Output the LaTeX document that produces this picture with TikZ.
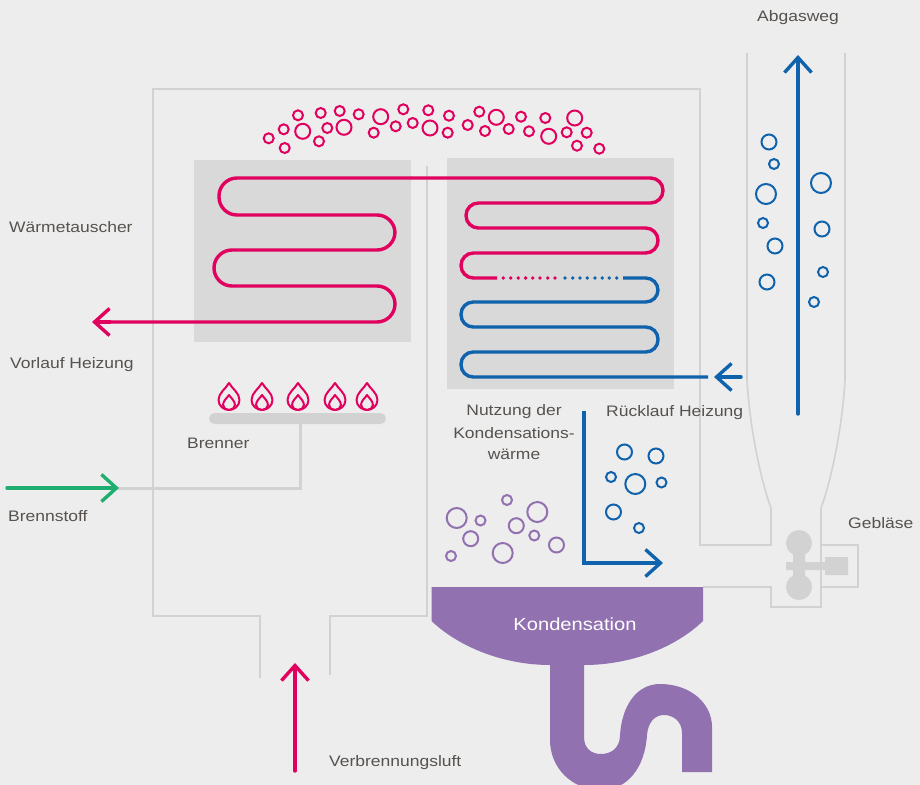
\documentclass[tikz,border=0pt]{standalone}
\usepackage{fontspec}
\setmainfont[FakeStretch=1.15]{Liberation Sans}
\usetikzlibrary{arrows.meta}
\definecolor{bgc}{HTML}{EDEDED}
\definecolor{panelc}{HTML}{D9D9D9}
\definecolor{linec}{HTML}{D2D2D2}
\definecolor{pinkc}{HTML}{E2005F}
\definecolor{bluec}{HTML}{0F62AC}
\definecolor{greenc}{HTML}{1DAE70}
\definecolor{purplec}{HTML}{9271B0}
\definecolor{textc}{HTML}{56524E}
\tikzset{
  wall/.style={draw=linec,line width=2pt,line join=miter},
  panel/.style={fill=panelc,draw=none},
  coil/.style={line width=3.4pt,line cap=round},
  chev/.style={-{Straight Barb[length=15pt,width=27pt,line width=3.4pt]}},
  lbl/.style={font=\fontsize{15.2pt}{19pt}\selectfont,text=textc,inner sep=0pt},
  lblw/.style={lbl,anchor=west},
  bub/.style={line width=2pt,fill=none},
  flame/.style={draw=pinkc,line width=2pt,line join=round},
}
\begin{document}
\begin{tikzpicture}[x=1pt,y=-1pt]
\useasboundingbox (0,0) rectangle (920,784);
\fill[bgc] (-2,-2) rectangle (922,786);
% casing
\draw[wall] (260,678) -- (260,616) -- (153,616) -- (153,89) -- (700,89) -- (700,545) -- (771,545) -- (771,508);
\draw[wall,line width=1.6pt] (771,508) .. controls (762,484) and (750,432) .. (747,380) -- (747,53);
\draw[wall,line width=1.6pt] (821,508) .. controls (830,484) and (842,432) .. (845,380) -- (845,53);
\draw[wall] (427,166) -- (427,616) -- (330,616) -- (330,675);
\draw[wall] (703,587) -- (771,587) -- (771,607) -- (821,607) -- (821,508);
\draw[wall] (821,545) -- (858,545) -- (858,587) -- (821,587);
% fan
\fill[linec] (799,543) circle (13) (799,587) circle (13);
\fill[linec] (793,543) rectangle (805,587) (786,562) rectangle (826,570) (825,557) rectangle (848,575);
% panels
\fill[panel] (194,160) rectangle (411,342);
\fill[panel] (447,158) rectangle (674,389);
% burner
\draw[linec,line width=3pt] (118,488) -- (300,488) -- (300,424);
\fill[linec,rounded corners=5.5pt] (209,413) rectangle (386,424);
\foreach \cx in {229,262,298,335,367}{
  \draw[flame] (\cx,383) .. controls (\cx+3,388.5) and (\cx+10.5,393) .. (\cx+10.5,400) .. controls (\cx+10.5,406) and (\cx+5,410) .. (\cx,410) .. controls (\cx-5,410) and (\cx-10.5,406) .. (\cx-10.5,400) .. controls (\cx-10.5,393) and (\cx-3,388.5) .. cycle;
  \draw[flame] (\cx,395) .. controls (\cx+2,398) and (\cx+6,401) .. (\cx+6,405) .. controls (\cx+6,408) and (\cx+3,410) .. (\cx,410) .. controls (\cx-3,410) and (\cx-6,408) .. (\cx-6,405) .. controls (\cx-6,401) and (\cx-2,398) .. cycle;
}
% connector end points
\coordinate (coilL) at (411,178);
\coordinate (vorlauf) at (92,322);
\coordinate (ruecklaufA) at (741,377);
\coordinate (ruecklaufB) at (714,377);
\coordinate (brennstoffA) at (7,488);
\coordinate (brennstoffB) at (119,488);
\coordinate (luftA) at (295,771);
\coordinate (luftB) at (295,663);
\coordinate (abgasA) at (798,414);
\coordinate (abgasB) at (798,55);
\coordinate (kondA) at (584,411);
\coordinate (kondB) at (663,563);
% coils
\draw[coil,draw=pinkc,rounded corners=18pt] (coilL) -- (219,178) -- (219,215) -- (395,215) -- (395,250) -- (214,250) -- (214,286) -- (395,286) -- (395,322) -- (108,322);
\draw[coil,draw=pinkc,chev] (110,322) -- (vorlauf);
\draw[coil,draw=pinkc,line cap=butt,rounded corners=12.4pt] (coilL) -- (663,178) -- (663,203) -- (466,203) -- (466,228) -- (658,228) -- (658,253) -- (461,253) -- (461,278) -- (497,278);
\draw[coil,draw=bluec,line cap=butt,rounded corners=12.2pt] (623,278) -- (658,278) -- (658,302) -- (461,302) -- (461,327) -- (658,327) -- (658,352) -- (461,352) -- (461,377) -- (708,377);
\foreach \x in {503.3,510.8,518.2,525.6,532.7,540,547.7,555}{\fill[pinkc] (\x,278) circle (1.9);}
\foreach \x in {565,572.7,580,587.3,595,602.3,609.3,616.7}{\fill[bluec] (\x,278) circle (1.9);}
\draw[coil,draw=bluec,chev] (ruecklaufA) -- (ruecklaufB);
\draw[coil,draw=greenc,chev] (brennstoffA) -- (brennstoffB);
\draw[coil,draw=pinkc,chev] (luftA) -- (luftB);
\draw[coil,draw=bluec,chev] (abgasA) -- (abgasB);
\draw[coil,draw=bluec,chev,line cap=butt] (kondA) |- (kondB);
% bubbles
\foreach \x/\y/\r in {268.7/138.3/5,283.7/129.3/5,284.7/148/5,302.7/131.3/7.5,298/115.3/5,319/141.3/5,327.3/128/5,320.7/113/5,339.7/111/5,344/127.3/7.5,358.7/114.3/5,373.7/132.7/5,380.7/116.7/7.5,395.7/126.3/5,403.3/109.3/5,412.7/123/5,428.3/110.3/5,430/128/7.5,449/115.7/5,447.7/132.7/5,467.7/125/5,479.3/111.7/5,485/131/5,496.3/117.3/7.5,508.7/129/5,521/116.7/5,529/131.3/5,545.3/118/5,548.7/136.3/7.5,566.7/132.3/5,574.7/118/7.5,586.7/132.7/5,577/145.7/5,599.3/148.7/5}
  {\draw[bub,draw=pinkc] (\x,\y) circle (\r);}
\foreach \x/\y/\r in {769/142/7.5,774/164/5,766/194/10,821/183/10,763/223/5,822/229/7.5,775/246/7.5,823/272/5,767/282/7.5,814/302/5,624.5/452/7.5,656/456/7.5,611/477/5,635.3/484/10,661.5/482.5/5,613.5/512/7.5,639/528/5}
  {\draw[bub,draw=bluec] (\x,\y) circle (\r);}
\foreach \x/\y/\r in {507/500/5,456.7/518/10,480.5/520.5/5,537.3/512/10,516.3/525.7/7.5,470.7/538.7/7.5,534.3/535.5/5,556.5/545/7.5,502.7/553/10,451/556/5}
  {\draw[bub,draw=purplec] (\x,\y) circle (\r);}
% condensate basin and siphon
\fill[purplec] (431.5,587) -- (703,587) -- (703,621) .. controls (675,648) and (630,665) .. (584,665) -- (584,737) .. controls (584,748) and (591,754) .. (601,754) .. controls (611,754) and (620,748) .. (620,735) .. controls (622,705) and (637,684) .. (660,684) .. controls (690,684) and (712,703) .. (712,727) -- (712,772) -- (682,772) -- (682,733) .. controls (682,722) and (674,715) .. (664,715) .. controls (655,715) and (648,722) .. (647,735) .. controls (645,767) and (628,790) .. (601,790) .. controls (572,790) and (550,768) .. (550,740) -- (550,665) .. controls (505,665) and (460,648) .. (431.5,621) -- cycle;
% labels
\node[lblw] (tAbgas) at (757,18) {Abgasweg};
\node[lblw] (tWaerme) at (9,227.5) {Wärmetauscher};
\node[lblw] (tVorlauf) at (10,365) {Vorlauf Heizung};
\node[lblw] (tBrenner) at (187,443) {Brenner};
\node[lblw] (tStoff) at (8,516) {Brennstoff};
\node[lblw] (tGeblaese) at (848,523.5) {Gebläse};
\node[lblw] (tRueck) at (606,412.5) {Rücklauf Heizung};
\node[lbl] (tN1) at (514,412) {Nutzung der};
\node[lbl] (tN2) at (514,433) {Kondensations-};
\node[lbl] (tN3) at (514,454) {wärme};
\node[lbl,text=white,font=\fontsize{17.5pt}{20pt}\selectfont] (tKond) at (575,624) {Kondensation};
\node[lblw] (tLuft) at (329,762.5) {Verbrennungsluft};
\end{tikzpicture}
\end{document}
